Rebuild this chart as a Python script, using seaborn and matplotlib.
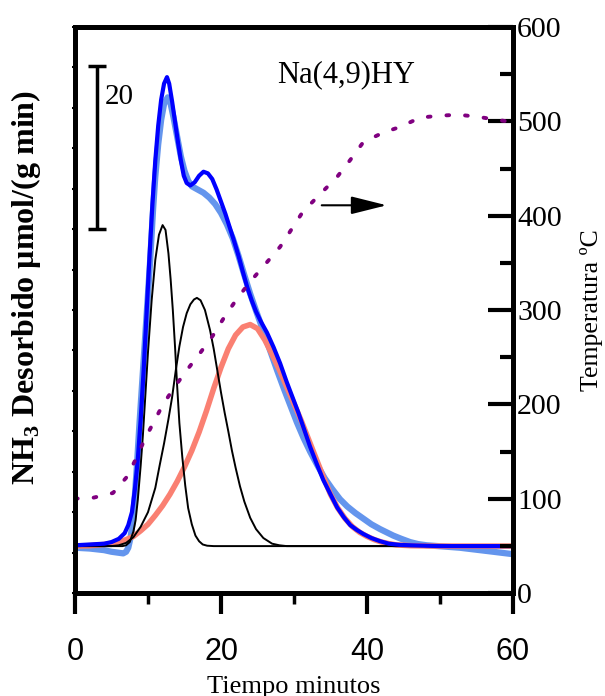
import matplotlib
matplotlib.use('Agg')
import matplotlib.pyplot as plt
from matplotlib.ticker import MultipleLocator
import seaborn as sns

# TPD de NH3 sobre Na(4,9)HY: curva experimental, ajuste y componentes
t_exp = [0, 1, 2, 3, 4, 5, 5.8, 6.6, 7.0, 7.3, 7.6, 7.9, 8.2, 8.5, 8.8, 9.2, 9.6, 10.0,
         10.3, 10.7, 11.0, 11.4, 11.8, 12.2, 12.7, 13.1, 13.5, 14.0, 14.5, 15.0, 15.5, 16.0,
         16.8, 17.6, 18.4, 19.2, 20.0, 20.8, 21.6, 22.4, 23.2, 24.0, 24.8, 25.8, 26.8, 27.7,
         28.6, 29.5, 30.4, 31.3, 32.2, 33.2, 34.2, 35.2, 36.3, 37.3, 38.4, 39.5, 40.6, 41.8,
         42.7, 43.6, 44.7, 45.9, 47.0, 48.2, 50.5, 52.7, 55, 57.3, 60]
v_exp = [5.6, 5.55, 5.5, 5.4, 5.3, 5.1, 5.0, 4.9, 5.1, 5.6, 6.8, 8.8, 12.0, 16.0, 20.5,
         26.0, 31.5, 37.0, 41.2, 47.5, 51.5, 55.5, 58.5, 60.5, 61.3, 60.5, 58.8, 56.4, 54.0,
         52.2, 51.0, 50.3, 49.9, 49.5, 48.9, 48.1, 47.0, 45.6, 43.9, 41.7, 39.3, 37.0, 34.9,
         32.4, 29.8, 27.5, 25.3, 23.2, 21.1, 19.2, 17.5, 15.8, 14.2, 12.9, 11.6, 10.7, 9.9,
         9.2, 8.5, 7.9, 7.5, 7.1, 6.7, 6.3, 6.05, 5.9, 5.75, 5.6, 5.35, 5.1, 4.8]

t_fit = [0, 2, 4, 5, 6, 6.8, 7.3, 7.8, 8.2, 8.6, 9.0, 9.4, 9.8, 10.2, 10.6, 11.0, 11.4,
         11.8, 12.2, 12.6, 12.9, 13.3, 13.7, 14.1, 14.5, 14.9, 15.3, 15.8, 16.4, 17.0, 17.6,
         18.2, 18.8, 19.4, 20.0, 20.6, 21.2, 21.8, 22.4, 23.0, 23.6, 24.2, 24.8, 25.5, 26.3,
         27.2, 28.1, 29.0, 29.8, 30.6, 31.4, 32.2, 33.1, 34.0, 35.0, 35.9, 36.8, 37.7, 38.6,
         39.5, 40.6, 41.8, 43.0, 44.5, 46, 50, 60]
v_fit = [5.9, 6.0, 6.1, 6.3, 6.7, 7.4, 8.4, 10.0, 12.8, 16.5, 21.5, 27.5, 34.5, 41.5, 48.0,
         53.5, 57.8, 61.0, 63.0, 63.8, 63.0, 60.8, 58.3, 55.8, 53.5, 51.6, 50.7, 50.4, 50.8,
         51.6, 52.1, 51.9, 51.2, 49.9, 48.4, 46.9, 45.2, 43.5, 41.7, 39.7, 37.8, 36.2, 34.8,
         33.5, 32.2, 30.4, 28.4, 26.1, 24.2, 22.3, 20.2, 18.1, 16.0, 14.0, 12.2, 10.6, 9.4,
         8.4, 7.8, 7.3, 6.8, 6.4, 6.1, 5.95, 5.9, 5.8, 5.8]

t_p1 = [0, 6.5, 7.0, 7.5, 8.0, 8.3, 8.6, 9.0, 9.3, 9.6, 10.0, 10.5, 11.0, 11.5, 12.0, 12.4,
        12.8, 13.1, 13.4, 13.7, 14.0, 14.3, 14.7, 15.1, 15.5, 16.0, 16.5, 17.0, 17.5, 18.1,
        19, 60]
v_p1 = [5.8, 5.8, 5.9, 6.3, 7.6, 9.0, 11.5, 15.8, 19.5, 23.9, 29.8, 36.2, 41.2, 44.3, 45.5,
        44.9, 42.0, 38.8, 35.0, 30.5, 25.5, 21.0, 16.8, 13.3, 10.5, 8.5, 7.1, 6.4, 6.0, 5.85,
        5.8, 5.8]

t_p2 = [0, 5, 6, 7, 8, 9, 10, 11, 11.6, 12.2, 12.8, 13.3, 13.8, 14.3, 14.8, 15.3, 15.8,
        16.3, 16.7, 17.2, 17.8, 18.5, 19.0, 19.5, 20.0, 20.5, 21.0, 21.5, 22.0, 22.6, 23.2,
        24.0, 24.8, 25.8, 27.0, 28.0, 29, 60]
v_p2 = [5.8, 5.8, 5.9, 6.2, 6.9, 8.2, 10.0, 13.0, 15.8, 18.5, 21.5, 24.2, 27.5, 30.5, 32.9,
        34.6, 35.7, 36.3, 36.5, 36.2, 35.0, 32.5, 30.2, 27.5, 24.8, 22.3, 20.0, 17.6, 15.5,
        13.2, 11.3, 9.3, 7.9, 6.8, 6.1, 5.9, 5.8, 5.8]

t_p3 = [0, 2, 4, 5.7, 7, 8, 9, 10, 11, 12, 13, 14, 15, 16, 17, 18, 19, 20, 21, 22, 23, 24,
        25, 26, 27, 28, 29, 30, 31, 32, 33, 34, 35, 36, 37, 38, 39, 40, 41, 42, 43, 44, 46,
        50, 60]
v_p3 = [5.8, 5.85, 6.0, 6.2, 6.6, 7.0, 7.7, 8.5, 9.6, 10.8, 12.2, 13.8, 15.6, 17.6, 19.9,
        22.5, 25.3, 27.9, 30.2, 31.9, 32.9, 33.2, 32.7, 31.3, 29.5, 27.6, 25.5, 23.4, 21.3,
        19.0, 16.7, 14.4, 12.2, 10.5, 9.2, 8.2, 7.5, 7.0, 6.6, 6.3, 6.1, 5.95, 5.85, 5.8, 5.8]

t_temp = [0, 2.5, 5.2, 7.1, 8.4, 9.5, 10.7, 12, 13.6, 15.3, 17.1, 18.9, 20.5, 22.2, 24, 26,
          28.1, 29.7, 31.2, 33.6, 35.9, 37.7, 39.5, 42.2, 44.5, 47.3, 50, 52.5, 55, 57.5, 60]
temp = [100, 101, 106, 123, 143, 162, 180, 199, 218, 236, 254, 273, 293, 312, 330, 348,
        367, 386, 404, 423, 441, 459, 478, 488, 494, 504, 506, 507, 505, 502, 499]

sns.set_style('ticks')
plt.rcParams['font.family'] = ['Liberation Serif', 'DejaVu Serif']
plt.rcParams.update({
    'mathtext.fontset': 'custom',
    'mathtext.rm': 'Liberation Serif',
    'mathtext.bf': 'Liberation Serif:bold',
    'axes.edgecolor': 'black',
    'xtick.color': 'black',
    'ytick.color': 'black',
    'text.color': 'black',
    'axes.labelcolor': 'black',
})

fig = plt.figure(figsize=(6.05, 6.96), dpi=100)
ax = fig.add_axes([75/605, 1 - 593/696, 438/605, 566/696])

sns.lineplot(x=t_exp, y=v_exp, ax=ax, color='#6495ED', lw=4.5, sort=False)
sns.lineplot(x=t_p3, y=v_p3, ax=ax, color='#FA8072', lw=4, sort=False)
sns.lineplot(x=t_p1, y=v_p1, ax=ax, color='black', lw=1.4, sort=False)
sns.lineplot(x=t_p2, y=v_p2, ax=ax, color='black', lw=1.4, sort=False)
sns.lineplot(x=t_fit, y=v_fit, ax=ax, color='#0000FF', lw=3, sort=False)

ax.set_xlim(0, 60)
ax.set_ylim(0, 70)
ax.xaxis.set_major_locator(MultipleLocator(20))
ax.xaxis.set_minor_locator(MultipleLocator(10))
ax.yaxis.set_major_locator(MultipleLocator(5))
ax.tick_params(axis='x', which='major', direction='out', length=15, width=3, pad=17,
               labelsize=22, labelfontfamily='Liberation Sans')
ax.tick_params(axis='x', which='minor', direction='out', length=8, width=2.5)
ax.tick_params(axis='y', which='major', direction='inout', length=5, width=1.5,
               left=True, right=True, labelleft=False)
for s in ax.spines.values():
    s.set_linewidth(3.5)

ax.set_xlabel('Tiempo minutos', fontsize=19, labelpad=6)
ax.set_ylabel(r'NH$_\mathbf{3}$ Desorbido µmol/(g min)', fontsize=23, fontweight='bold')
ax.yaxis.set_label_coords(-0.072, 0.54)

# barra de escala
ax.errorbar([3.0], [55.1], yerr=[10.05], fmt='none', ecolor='black', elinewidth=2.5,
            capsize=6.5, capthick=2.5)
ax.text(4.1, 61.4, '20', fontsize=21, va='center', ha='left')
ax.text(37.1, 64.1, 'Na(4,9)HY', fontsize=22, va='center', ha='center')

ax2 = ax.twinx()
sns.lineplot(x=t_temp, y=temp, ax=ax2, color='#800080', lw=2.8, sort=False,
             linestyle=(0, (0.7, 4.1)), dash_capstyle='round')
ax2.set_ylim(0, 600)
ax2.yaxis.set_major_locator(MultipleLocator(100))
ax2.yaxis.set_minor_locator(MultipleLocator(50))
ax2.tick_params(axis='y', which='major', direction='in', length=18, width=3, pad=3,
                labelsize=21.5)
ax2.tick_params(axis='y', which='minor', direction='in', length=9.5, width=3)
ax2.set_ylabel('Temperatura ºC', fontsize=18.5, labelpad=13)
for s in ax2.spines.values():
    s.set_linewidth(3.5)

ax2.annotate('', xy=(42.7, 411), xytext=(33.8, 411),
             arrowprops=dict(arrowstyle='-|>,head_length=2.2,head_width=0.55',
                             lw=1.5, color='black', mutation_scale=10,
                             shrinkA=0, shrinkB=0))

fig.savefig('out.png', dpi=100)
